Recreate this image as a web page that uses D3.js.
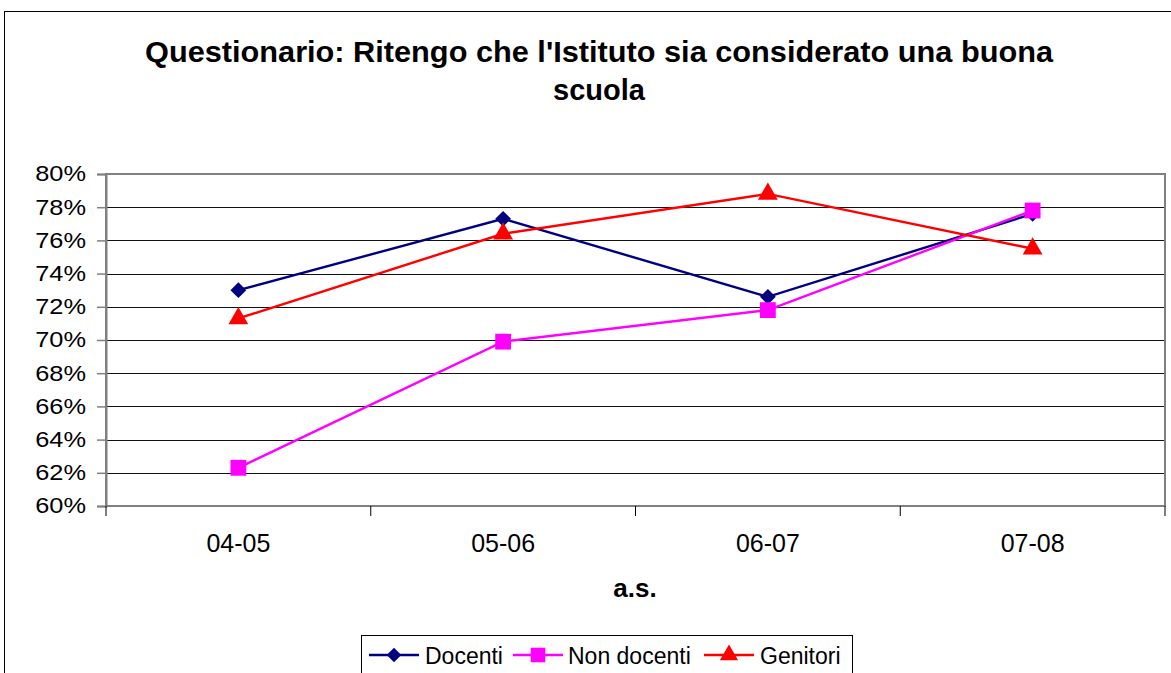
<!DOCTYPE html>
<html><head><meta charset="utf-8">
<script src="https://cdn.jsdelivr.net/npm/d3@7"></script>
<style>body{margin:0;background:#fff;} svg{display:block;font-family:"Liberation Sans",Arial,sans-serif;}</style>
</head><body><svg id="c" width="1171" height="673"></svg>
<script>
const categories = ["04-05","05-06","06-07","07-08"];
const docenti = [73.0, 77.3, 72.6, 77.6];
const nonDocenti = [62.3, 69.9, 71.8, 77.8];
const genitori = [71.3, 76.4, 78.8, 75.5];
const yTicks = [60,62,64,66,68,70,72,74,76,78,80];
const seriesNames = ["Docenti","Non docenti","Genitori"];
const seriesColors = ["#000080","#FF00FF","#FF0000"];
const seriesSymbols = [d3.symbolSquare, d3.symbolSquare, d3.symbolTriangle];
const symRot = [45, 0, 0];
const symSizes = [125, 250, 170];
const series = [docenti, nonDocenti, genitori];

const svg = d3.select("#c");
const L=106, R=1165, T=174, B=506;

svg.append("rect").attr("x",4.5).attr("y",11.5).attr("width",1200).attr("height",700)
  .attr("fill","none").attr("stroke","#000").attr("stroke-width",1);

const titleLines = ["Questionario: Ritengo che l'Istituto sia considerato una buona","scuola"];
svg.append("text").attr("x",599).attr("y",62).attr("text-anchor","middle")
  .attr("font-weight","bold").attr("font-size",29)
  .attr("textLength",908).attr("lengthAdjust","spacingAndGlyphs").text(titleLines[0]);
svg.append("text").attr("x",599).attr("y",100).attr("text-anchor","middle")
  .attr("font-weight","bold").attr("font-size",29).text(titleLines[1]);

const x = d3.scaleBand().domain(categories).range([L,R]).padding(0);
const y = d3.scaleLinear().domain([60,80]).range([B,T]);

// gridlines
svg.append("g").selectAll("line").data(yTicks.slice(1)).join("line")
  .attr("x1",L).attr("x2",R).attr("y1",d=>Math.round(y(d))+0.5).attr("y2",d=>Math.round(y(d))+0.5)
  .attr("stroke","#111").attr("stroke-width",1);

// plot border
svg.append("rect").attr("x",L).attr("y",T).attr("width",R-L).attr("height",B-T)
  .attr("fill","none").attr("stroke","#808080").attr("stroke-width",2);

// y axis
const sx = 1.18;
const yAxis = d3.axisLeft(y).tickValues(yTicks).tickFormat(d=>d+"%").tickSize(9).tickPadding(11);
const gy = svg.append("g").attr("transform",`translate(${L},0)`).call(yAxis);
gy.select(".domain").attr("stroke","#808080").attr("stroke-width",2);
gy.selectAll(".tick line").attr("stroke","#808080").attr("stroke-width",1.5);
gy.selectAll("text").attr("font-size",21.5).attr("fill","#000")
  .attr("font-family","Liberation Sans, Arial, sans-serif")
  .attr("x",-20/sx).attr("transform",`scale(${sx},1)`);

// x axis ticks at boundaries
const bounds = categories.map(c=>x(c)).concat([R]);
svg.append("g").selectAll("line").data(bounds).join("line")
  .attr("x1",d=>d).attr("x2",d=>d).attr("y1",B).attr("y2",B+10).attr("stroke","#000").attr("stroke-width",1);
svg.append("g").selectAll("text").data(categories).join("text")
  .attr("x",d=>x(d)+x.bandwidth()/2).attr("y",552).attr("text-anchor","middle")
  .attr("font-size",25).text(d=>d);
svg.append("text").attr("x",635).attr("y",597).attr("text-anchor","middle")
  .attr("font-weight","bold").attr("font-size",26).text("a.s.");

const line = d3.line().x((d,i)=>x(categories[i])+x.bandwidth()/2).y(d=>y(d));
series.forEach((s,k)=>{
  svg.append("path").datum(s).attr("d",line).attr("fill","none")
    .attr("stroke",seriesColors[k]).attr("stroke-width",2.4);
  svg.append("g").selectAll("path").data(s).join("path")
    .attr("transform",(d,i)=>`translate(${x(categories[i])+x.bandwidth()/2},${y(d)}) rotate(${symRot[k]})`)
    .attr("d",d3.symbol().type(seriesSymbols[k]).size(symSizes[k])).attr("fill",seriesColors[k]);
});

// legend
svg.append("rect").attr("x",361.5).attr("y",635.5).attr("width",491).attr("height",60)
  .attr("fill","#fff").attr("stroke","#000").attr("stroke-width",1);
const legX = [369, 513, 704];
const legT = [425, 568, 760];
seriesNames.forEach((n,k)=>{
  const g = svg.append("g");
  g.append("line").attr("x1",legX[k]).attr("x2",legX[k]+50).attr("y1",655).attr("y2",655)
    .attr("stroke",seriesColors[k]).attr("stroke-width",2.4);
  g.append("path").attr("transform",`translate(${legX[k]+25},655) rotate(${symRot[k]})`)
    .attr("d",d3.symbol().type(seriesSymbols[k]).size(symSizes[k]*0.85)).attr("fill",seriesColors[k]);
  g.append("text").attr("x",legT[k]).attr("y",664).attr("font-size",23).text(n);
});
</script></body></html>
